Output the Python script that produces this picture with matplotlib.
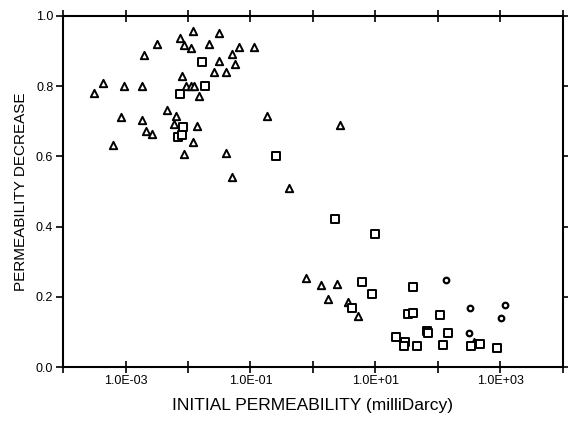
import numpy as np
import matplotlib
matplotlib.use('Agg')
import matplotlib.pyplot as plt
from matplotlib.ticker import FixedLocator, FixedFormatter, NullLocator

plt.rcParams['font.family'] = ['Liberation Sans', 'DejaVu Sans']

# triangles (initial permeability in mD, permeability decrease)
tri_x = [0.0120, 0.0316, 0.00741, 0.00851, 0.0112, 0.00316, 0.0219, 0.00195,
         0.0646, 0.115, 0.0513, 0.0316, 0.0562, 0.0257, 0.0407, 0.00813,
         0.000437, 0.000309, 0.000955, 0.00182, 0.00933, 0.0110, 0.0126,
         0.0151, 0.00468, 0.00631, 0.00589, 0.0138, 0.000832, 0.00186,
         0.00214, 0.00269, 0.0120, 0.000631, 0.00851, 0.0407, 0.0501,
         0.417, 0.186, 2.72, 0.776, 1.35, 2.45, 1.74, 3.63, 5.25, 380]
tri_y = [0.958, 0.952, 0.936, 0.917, 0.908, 0.919, 0.921, 0.889,
         0.911, 0.911, 0.891, 0.872, 0.862, 0.840, 0.840, 0.829,
         0.808, 0.780, 0.799, 0.799, 0.799, 0.799, 0.799,
         0.772, 0.732, 0.715, 0.692, 0.685, 0.713, 0.702,
         0.672, 0.663, 0.642, 0.632, 0.606, 0.609, 0.540,
         0.511, 0.715, 0.689, 0.254, 0.233, 0.236, 0.193, 0.185, 0.146, 0.070]

# squares
sq_x = [0.0166, 0.0186, 0.00741, 0.00832, 0.00692, 0.00794, 0.257, 2.29,
        10.0, 6.17, 8.71, 4.17, 39.8, 33.1, 39.8, 107, 21.4, 29.5, 28.8,
        45.7, 66.1, 69.2, 145, 120, 339, 479, 871]
sq_y = [0.869, 0.800, 0.778, 0.683, 0.656, 0.661, 0.602, 0.422,
        0.380, 0.242, 0.208, 0.168, 0.228, 0.150, 0.153, 0.149, 0.086, 0.070, 0.060,
        0.061, 0.103, 0.098, 0.097, 0.063, 0.061, 0.066, 0.055]

# circles
ci_x = [135, 324, 1175, 1023, 316]
ci_y = [0.249, 0.168, 0.178, 0.140, 0.098]

xticks = [1e-4, 1e-3, 1e-2, 1e-1, 1e0, 1e1, 1e2, 1e3, 1e4]
xticklabels = ['', '1.0E-03', '', '1.0E-01', '', '1.0E+01', '', '1.0E+03', '']
yticks = [0.0, 0.2, 0.4, 0.6, 0.8, 1.0]
yticklabels = ['0.0', '0.2', '0.4', '0.6', '0.8', '1.0']

fig = plt.figure(figsize=(5.68, 4.28), dpi=100)
ax = fig.add_axes([0.111, 0.1425, 0.88, 0.8205])

ax.scatter(tri_x, tri_y, marker='^', s=28, facecolors='white', edgecolors='black', linewidths=1.4, zorder=3)
ax.scatter(sq_x, sq_y, marker='s', s=36, facecolors='white', edgecolors='black', linewidths=1.4, zorder=3)
ax.scatter(ci_x, ci_y, marker='o', s=16, facecolors='white', edgecolors='black', linewidths=1.6, zorder=3)

ax.set_xscale('log')
ax.set_xlim(1e-4, 1e4)
ax.set_ylim(0, 1)
ax.xaxis.set_major_locator(FixedLocator(xticks))
ax.xaxis.set_major_formatter(FixedFormatter(xticklabels))
ax.xaxis.set_minor_locator(NullLocator())
ax.set_yticks(yticks)
ax.set_yticklabels(yticklabels)

ax.tick_params(axis='both', direction='out', length=5, width=1.2, labelsize=9, pad=2)
ax.tick_params(axis='x', direction='inout', length=8)
ax.tick_params(top=True, right=True, labeltop=False, labelright=False)
for sp in ax.spines.values():
    sp.set_linewidth(1.5)

ax.set_xlabel('INITIAL PERMEABILITY (milliDarcy)', fontsize=12.5, labelpad=8)
ax.set_ylabel('PERMEABILITY DECREASE', fontsize=11, labelpad=6)

fig.savefig('out.png', dpi=100)
